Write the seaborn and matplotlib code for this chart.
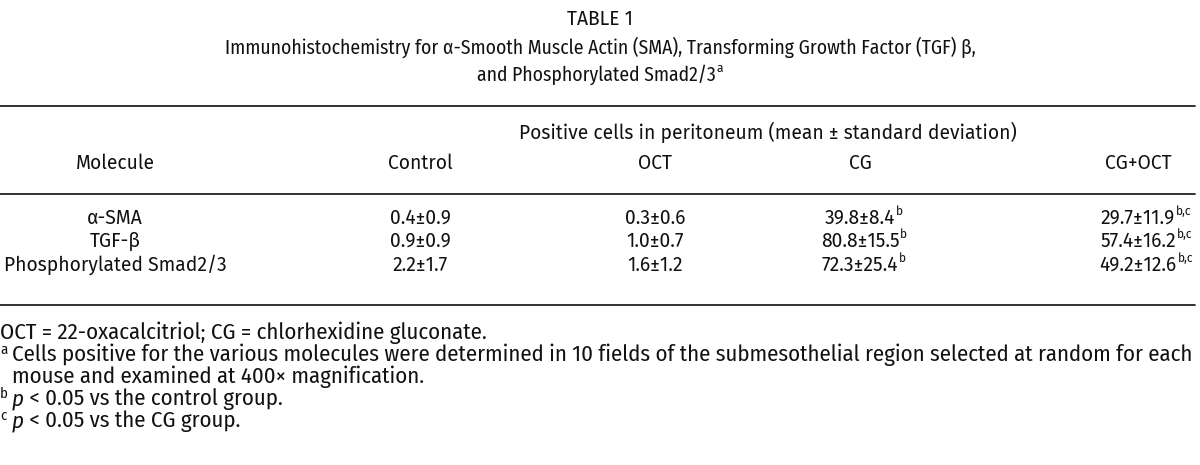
import matplotlib
matplotlib.use("Agg")
import matplotlib.pyplot as plt
from matplotlib import font_manager
from matplotlib.font_manager import FontProperties
import seaborn as sns

# table content
molecules = ["\u03b1-SMA", "TGF-\u03b2", "Phosphorylated Smad2/3"]
groups = ["Control", "OCT", "CG", "CG+OCT"]
means = [[0.4, 0.3, 39.8, 29.7],
         [0.9, 1.0, 80.8, 57.4],
         [2.2, 1.6, 72.3, 49.2]]
sds = [[0.9, 0.6, 8.4, 11.9],
       [0.9, 0.7, 15.5, 16.2],
       [1.7, 1.2, 25.4, 12.6]]
marks = [["", "", "b", "b,c"],
         ["", "", "b", "b,c"],
         ["", "", "b", "b,c"]]

title = "TABLE 1"
subtitle1 = "Immunohistochemistry for \u03b1-Smooth Muscle Actin (SMA), Transforming Growth Factor (TGF) \u03b2,"
subtitle2 = "and Phosphorylated Smad2/3"
span_header = "Positive cells in peritoneum (mean \u00b1 standard deviation)"
notes = [
    ("", "OCT = 22-oxacalcitriol; CG = chlorhexidine gluconate."),
    ("a", "Cells positive for the various molecules were determined in 10 fields of the submesothelial region selected at random for each"),
    ("", "mouse and examined at 400\u00d7 magnification."),
    ("b", "p", " < 0.05 vs the control group."),
    ("c", "p", " < 0.05 vs the CG group."),
]

sns.set_theme(style="white")
plt.rcParams['font.family'] = ['Fira Sans', 'DejaVu Sans']


def font(name, style='normal'):
    # pick the exact file so a family like "Fira Sans" is not swapped for another
    best = None
    for f in font_manager.fontManager.ttflist:
        if f.name == name and f.style == style:
            w = f.weight if isinstance(f.weight, int) else 400
            if best is None or abs(w - 400) < abs(best[0] - 400):
                best = (w, f.fname)
    if best:
        return FontProperties(fname=best[1])
    return FontProperties(family=[name, 'DejaVu Sans'], style=style)


BODY = font('Fira Sans')
COND = font('Fira Sans Condensed')
COND_IT = font('Fira Sans Condensed', 'italic')

W, H = 1200, 465
fig = plt.figure(figsize=(12, 4.65), dpi=100)
ax = fig.add_axes([0, 0, 1, 1])
ax.set_xlim(0, W)
ax.set_ylim(H, 0)
ax.axis('off')
fig.canvas.draw()
renderer = fig.canvas.get_renderer()
INK = '#111111'


def right_edge(t):
    bb = t.get_window_extent(renderer=renderer)
    return ax.transData.inverted().transform((bb.x1, bb.y0))[0]


def fit_size(s, target, fp):
    p = fp.copy()
    p.set_size(10)
    t = ax.text(0, 0, s, fontproperties=p)
    w = t.get_window_extent(renderer=renderer).width
    t.remove()
    return 10 * target / w


def put(x, y, s, fp, size, ha='left'):
    p = fp.copy()
    p.set_size(size)
    return ax.text(x, y, s, fontproperties=p, ha=ha, va='center', color=INK)


FS = fit_size(molecules[2], 222, BODY)
TS = fit_size(subtitle1, 750, COND)
NF = fit_size(notes[1][1], 1183, COND)
SUP = FS * 0.62


def sup_after(t, s, y, dy=7):
    if s:
        put(right_edge(t) + 1, y - dy, s, BODY, SUP)


col_x = [115, 420, 655, 860, 1138]

put(600, 19, title, BODY, FS, 'center')
put(600, 47, subtitle1, COND, TS, 'center')
t = put(596, 75, subtitle2, COND, TS, 'center')
sup_after(t, "a", 75)

for yl in [106, 194, 305]:
    ax.plot([0, 1195], [yl, yl], color='#222222', lw=1.3)

put(768, 132, span_header, BODY, FS, 'center')
put(col_x[0], 163, "Molecule", BODY, FS, 'center')
for g, x in zip(groups, col_x[1:]):
    put(x, 163, g, BODY, FS, 'center')

row_y = [218, 241, 265]
for i, m in enumerate(molecules):
    y = row_y[i]
    put(col_x[0], y, m, BODY, FS, 'center')
    for j in range(len(groups)):
        s = f"{means[i][j]:.1f}\u00b1{sds[i][j]:.1f}"
        t = put(col_x[j + 1], y, s, BODY, FS, 'center')
        sup_after(t, marks[i][j], y)

note_y = [333, 355, 377, 399, 421]
for n, y in zip(notes, note_y):
    x = 0
    if n[0]:
        put(0, y - 5, n[0], COND, NF * 0.65)
        x = 12
    elif n[1].startswith("mouse"):
        x = 12
    if len(n) == 3:
        t = put(x, y, n[1], COND_IT, NF)
        put(right_edge(t), y, n[2], COND, NF)
    else:
        put(x, y, n[1], COND, NF)

fig.savefig("out.png", dpi=100, facecolor='white')
